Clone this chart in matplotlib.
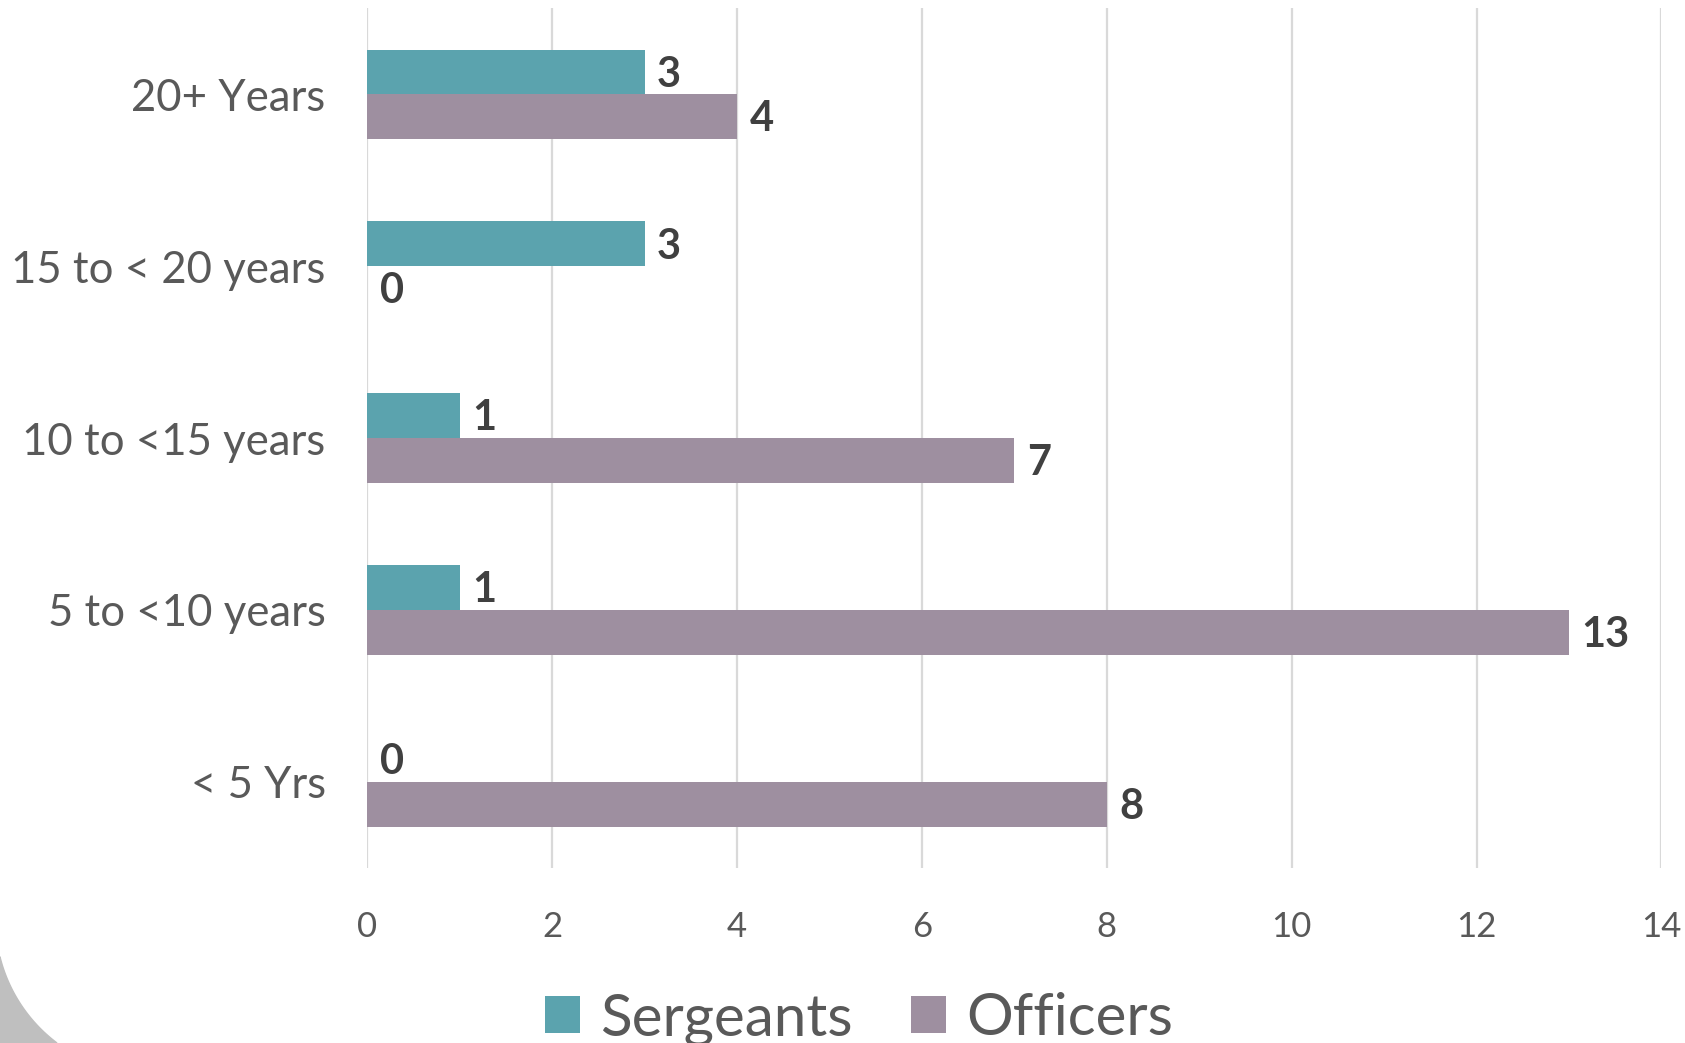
import matplotlib.pyplot as plt
import numpy as np
from matplotlib.patches import Polygon

plt.rcParams['font.family'] = ['Lato', 'DejaVu Sans']

categories = ['20+ Years', '15 to < 20 years', '10 to <15 years', '5 to <10 years', '< 5 Yrs']
sergeants = [3, 3, 1, 1, 0]
officers = [4, 0, 7, 13, 8]
xticks = [0, 2, 4, 6, 8, 10, 12, 14]

teal = '#5BA3AE'
mauve = '#9E8FA0'
text_col = '#595959'
label_col = '#404040'

fig = plt.figure(figsize=(16.85, 10.43), dpi=100)
ax = fig.add_axes([0.218, 0.168, 0.768, 0.824])

y = np.arange(len(categories))
h = 0.26
b1 = ax.barh(y - h / 2, sergeants, height=h, color=teal, linewidth=0, label='Sergeants', zorder=3)
b2 = ax.barh(y + h / 2, officers, height=h, color=mauve, linewidth=0, label='Officers', zorder=3)

for bars, vals in ((b1, sergeants), (b2, officers)):
    for bar, v in zip(bars, vals):
        ax.annotate(str(v), (bar.get_width(), bar.get_y() + bar.get_height() / 2),
                    xytext=(9, -2), textcoords='offset points', va='center', ha='left',
                    fontsize=30, fontweight='bold', color=label_col)

ax.set_ylim(len(categories) - 0.5, -0.5)
ax.set_xlim(0, 14)
ax.set_yticks(y)
ax.set_yticklabels(categories)
ax.set_xticks(xticks)
ax.tick_params(axis='y', length=0, pad=30, labelsize=31.5, labelcolor=text_col)
ax.tick_params(axis='x', length=0, pad=31, labelsize=25, labelcolor=text_col)
ax.grid(axis='x', color='#D9D9D9', linewidth=1.6, zorder=0)
for s in ax.spines.values():
    s.set_visible(False)

fig.legend(handles=[b1, b2], loc='lower center', bbox_to_anchor=(0.51, -0.053), ncol=2,
           frameon=False, fontsize=42, labelcolor=text_col, handlelength=0.6,
           handleheight=0.6, handletextpad=0.35, columnspacing=1.0)

# grey corner decoration bottom-left
W, H = 1685, 1043
cx, cy, r = 150, 919.5, 154.6
yy = np.linspace(957, 1043, 40)
xx = cx - np.sqrt(np.clip(r**2 - (yy - cy)**2, 0, None))
pts = [(0, 1 - 957 / H)] + [(px / W, 1 - py / H) for px, py in zip(xx, yy)] + [(0, 0)]
fig.patches.append(Polygon(pts, closed=True, transform=fig.transFigure, color='#BFBFBF', zorder=0))

fig.savefig('out.png', dpi=100)
